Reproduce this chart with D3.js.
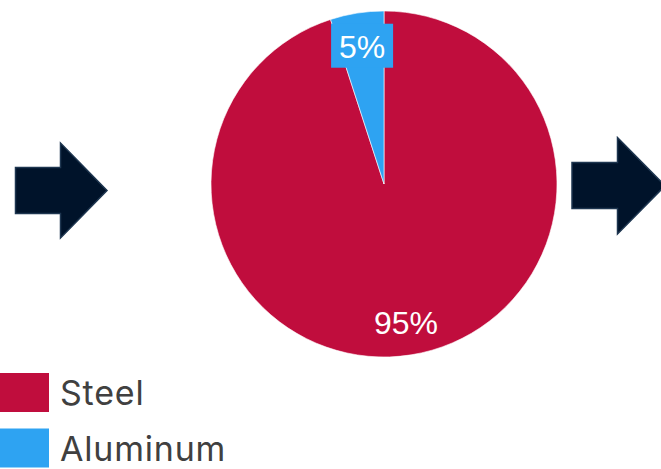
<!DOCTYPE html>
<html><head><meta charset="utf-8">
<script src="https://cdn.jsdelivr.net/npm/d3@7"></script>
<style>html,body{margin:0;padding:0;background:#fff;overflow:hidden}</style>
</head><body>
<svg id="c" width="661" height="469"></svg>
<script>
const categories = ["Steel", "Aluminum"];
const values = [95, 5];
const labels = ["95%", "5%"];
const colors = ["#C00D3D", "#2EA3F2"];

const svg = d3.select("#c");
const cx = 384, cy = 184, R = 173;
const color = d3.scaleOrdinal().domain(categories).range(colors);
const data = categories.map((c, i) => ({cat: c, value: values[i], label: labels[i]}));
const pie = d3.pie().sort(null).value(d => d.value);
const arcs = pie(data);
const arc = d3.arc().innerRadius(0).outerRadius(R);
const labelArc = d3.arc().innerRadius(140).outerRadius(140);

const g = svg.append("g").attr("transform", `translate(${cx},${cy})`);
g.selectAll("path").data(arcs).join("path")
  .attr("d", arc).attr("fill", d => color(d.data.cat))
  .attr("stroke", "#fff").attr("stroke-width", 0.6);

arcs.forEach(d => {
  const [x, y] = labelArc.centroid(d);
  if (d.data.cat === "Aluminum") {
    g.append("rect").attr("x", x - 31).attr("y", y - 22).attr("width", 62).attr("height", 44)
      .attr("fill", color(d.data.cat));
  }
  g.append("text").attr("x", x).attr("y", y + 1).attr("text-anchor", "middle")
    .attr("dominant-baseline", "central")
    .attr("font-family", "Liberation Sans, Arial, sans-serif").attr("font-size", 32)
    .attr("fill", "#fff").text(d.data.label);
});

function arrow(x0, yTop, yBot, xHead, hTop, hBot, tip) {
  const ym = (hTop + hBot) / 2;
  return `M${x0},${yTop}H${xHead}V${hTop}L${tip},${ym}L${xHead},${hBot}V${yBot}H${x0}Z`;
}
svg.append("path").attr("d", arrow(15.5, 167.5, 213.5, 60.5, 143, 238, 107))
  .attr("fill", "#00132A").attr("stroke", "#1E3650").attr("stroke-width", 1.5);
svg.append("path").attr("d", arrow(572, 162.5, 208.5, 617.5, 137.5, 234, 665))
  .attr("fill", "#00132A").attr("stroke", "#1E3650").attr("stroke-width", 1.5);

const leg = svg.append("g");
categories.forEach((c, i) => {
  const y = 373 + i * 55.5;
  leg.append("rect").attr("x", 0).attr("y", y).attr("width", 49).attr("height", 39).attr("fill", color(c));
  leg.append("text").attr("x", 60).attr("y", y + 32).attr("font-family", "Inter, sans-serif")
    .attr("font-size", 34).attr("letter-spacing", 0.8).attr("fill", "#404040").text(c);
});
</script>
</body></html>
